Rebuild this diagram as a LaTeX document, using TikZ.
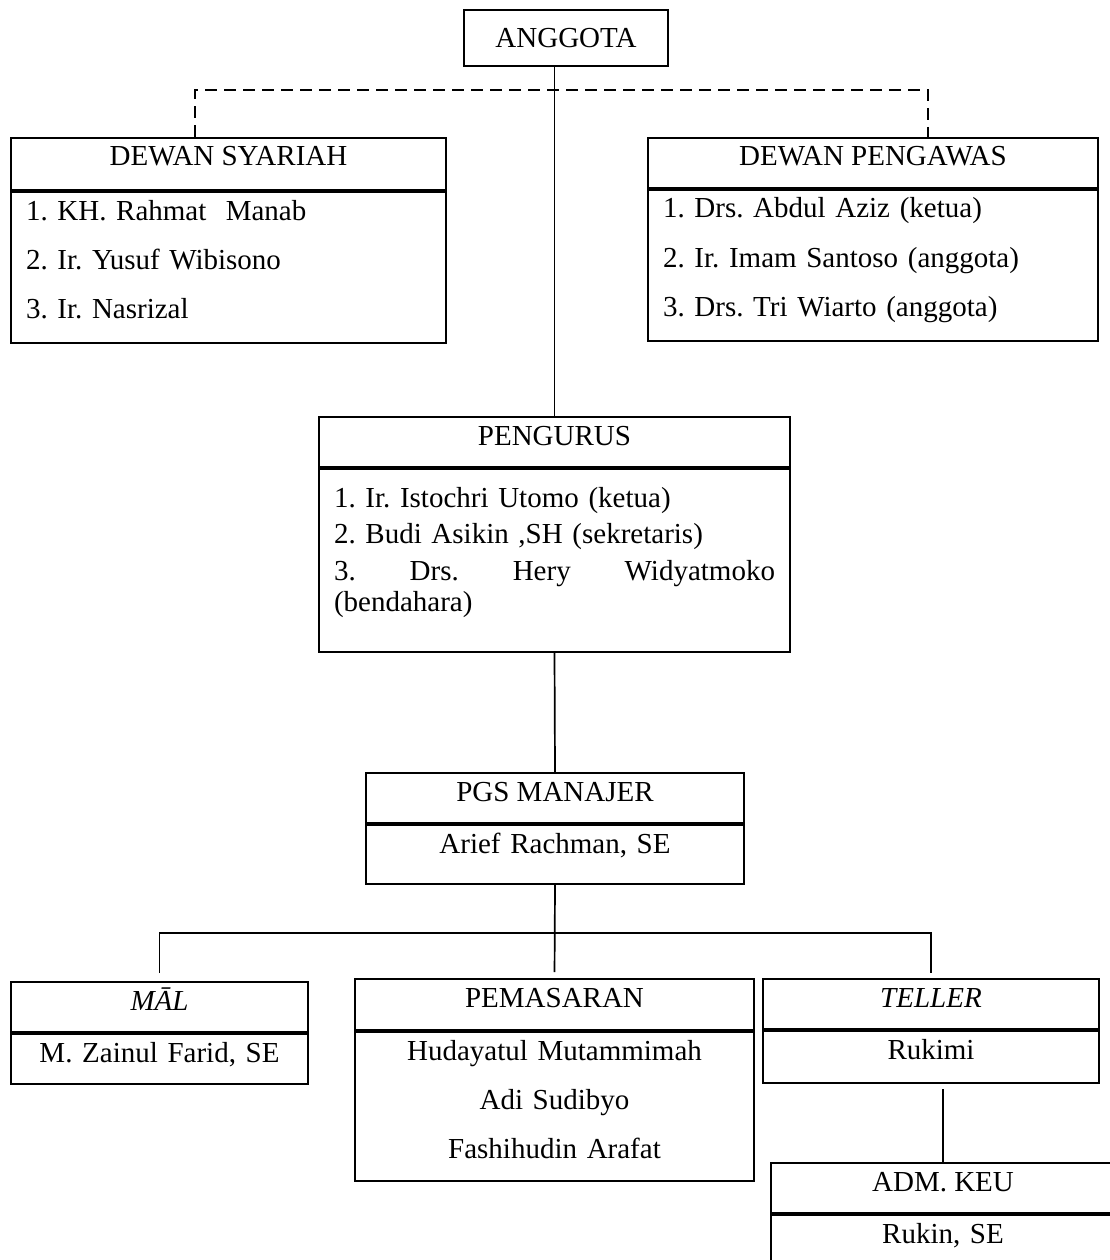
\documentclass[tikz,border=0pt]{standalone}
\usepackage{fontspec}
\setmainfont{Liberation Serif}
\usetikzlibrary{positioning,calc}
\frenchspacing

\begin{document}
\begin{tikzpicture}[x=1pt,y=-1pt,
	title/.style={draw,line width=2pt,inner ysep=0pt,text height=28pt,text depth=22pt,font=\fontsize{29}{34}\selectfont},
	members/.style={draw,line width=2pt,inner ysep=0pt,inner xsep=15pt,text height=28pt,align=left,font=\fontsize{29}{49}\selectfont},
	staff/.style={members,align=center},
	link/.style={line width=1.7pt},
	dashlink/.style={line width=2pt,dash pattern=on 12pt off 7pt}]
	\clip (0,0) rectangle (1110,1260);
	\node[draw,line width=2pt,minimum width=204pt,minimum height=56pt,font=\fontsize{29}{34}\selectfont] (anggota) at (566,38) {ANGGOTA};
	% dewan
	\node[title,anchor=north west,minimum width=435pt,text depth=24pt] (syariah) at (10,137) {DEWAN SYARIAH};
	\node[members,below=0pt of syariah,text width=405pt,text depth=123pt] (syariah_list) {1. KH. Rahmat~ Manab\\2. Ir. Yusuf Wibisono\\3. Ir. Nasrizal};
	\node[title,anchor=north west,minimum width=450pt] (pengawas) at (647,137) {DEWAN PENGAWAS};
	\node[members,below=0pt of pengawas,text width=420pt,text depth=123pt] (pengawas_list) {1. Drs. Abdul Aziz (ketua)\\2. Ir. Imam Santoso (anggota)\\3. Drs. Tri Wiarto (anggota)};
	% pengurus
	\node[title,anchor=north west,minimum width=471pt] (pengurus) at (318,416) {PENGURUS};
	\node[members,below=0pt of pengurus,text width=441pt,text height=38pt,text depth=145pt,font=\fontsize{29}{31}\selectfont] (pengurus_list) {1. Ir. Istochri Utomo (ketua)\\[5.5pt]2. Budi Asikin ,SH (sekretaris)\\[5.5pt]3.\hfill Drs.\hfill Hery\hfill Widyatmoko\\(bendahara)};
	\node[title,anchor=north west,minimum width=378pt] (pgs) at (365,772) {PGS MANAJER};
	\node[staff,below=0pt of pgs,text width=348pt,text depth=31pt] (pgs_list) {Arief Rachman, SE};
	% bagian
	\node[title,anchor=north west,minimum width=297pt] (mal) at (10,981) {\textit{M\=AL}};
	\node[staff,below=0pt of mal,text width=267pt,text depth=22pt] (mal_list) {M. Zainul Farid, SE};
	\node[title,anchor=north west,minimum width=399pt,text depth=23pt] (pemasaran) at (354,978) {PEMASARAN};
	\node[staff,below=0pt of pemasaran,text width=369pt,text depth=121pt] (pemasaran_list) {Hudayatul Mutammimah\\Adi Sudibyo\\Fashihudin Arafat};
	\node[title,anchor=north west,minimum width=336pt] (teller) at (762,978) {\textit{TELLER}};
	\node[staff,below=0pt of teller,text width=306pt,text depth=24pt] (teller_list) {Rukimi};
	\node[title,anchor=north west,minimum width=344pt] (adm) at (770,1162) {ADM. KEU};
	\node[staff,below=0pt of adm,text width=314pt,text depth=42pt] (adm_list) {Rukin, SE};
	% garis
	\coordinate (sy_top) at ($(syariah.north west)+(185,0)$);
	\coordinate (pw_top) at ($(pengawas.north west)+(281,0)$);
	\draw[dashlink] (sy_top) -- ++(0,-47) -| (pw_top);
	\draw[link] (pengurus.north |- anggota.south) -- (pengurus.north);
	\draw[link] (pengurus_list.south) -- (pgs.north);
	\coordinate (bus) at ($(pgs_list.south)+(0,48)$);
	\draw[link,shorten >=6pt] (pgs_list.south) -- (pemasaran.north);
	\draw[link,shorten <=8pt,shorten >=5pt] (mal.north) |- (bus) -| (teller.north);
	\draw[link,shorten <=5pt] (adm.north |- teller_list.south) -- (adm.north);
\end{tikzpicture}
\end{document}
